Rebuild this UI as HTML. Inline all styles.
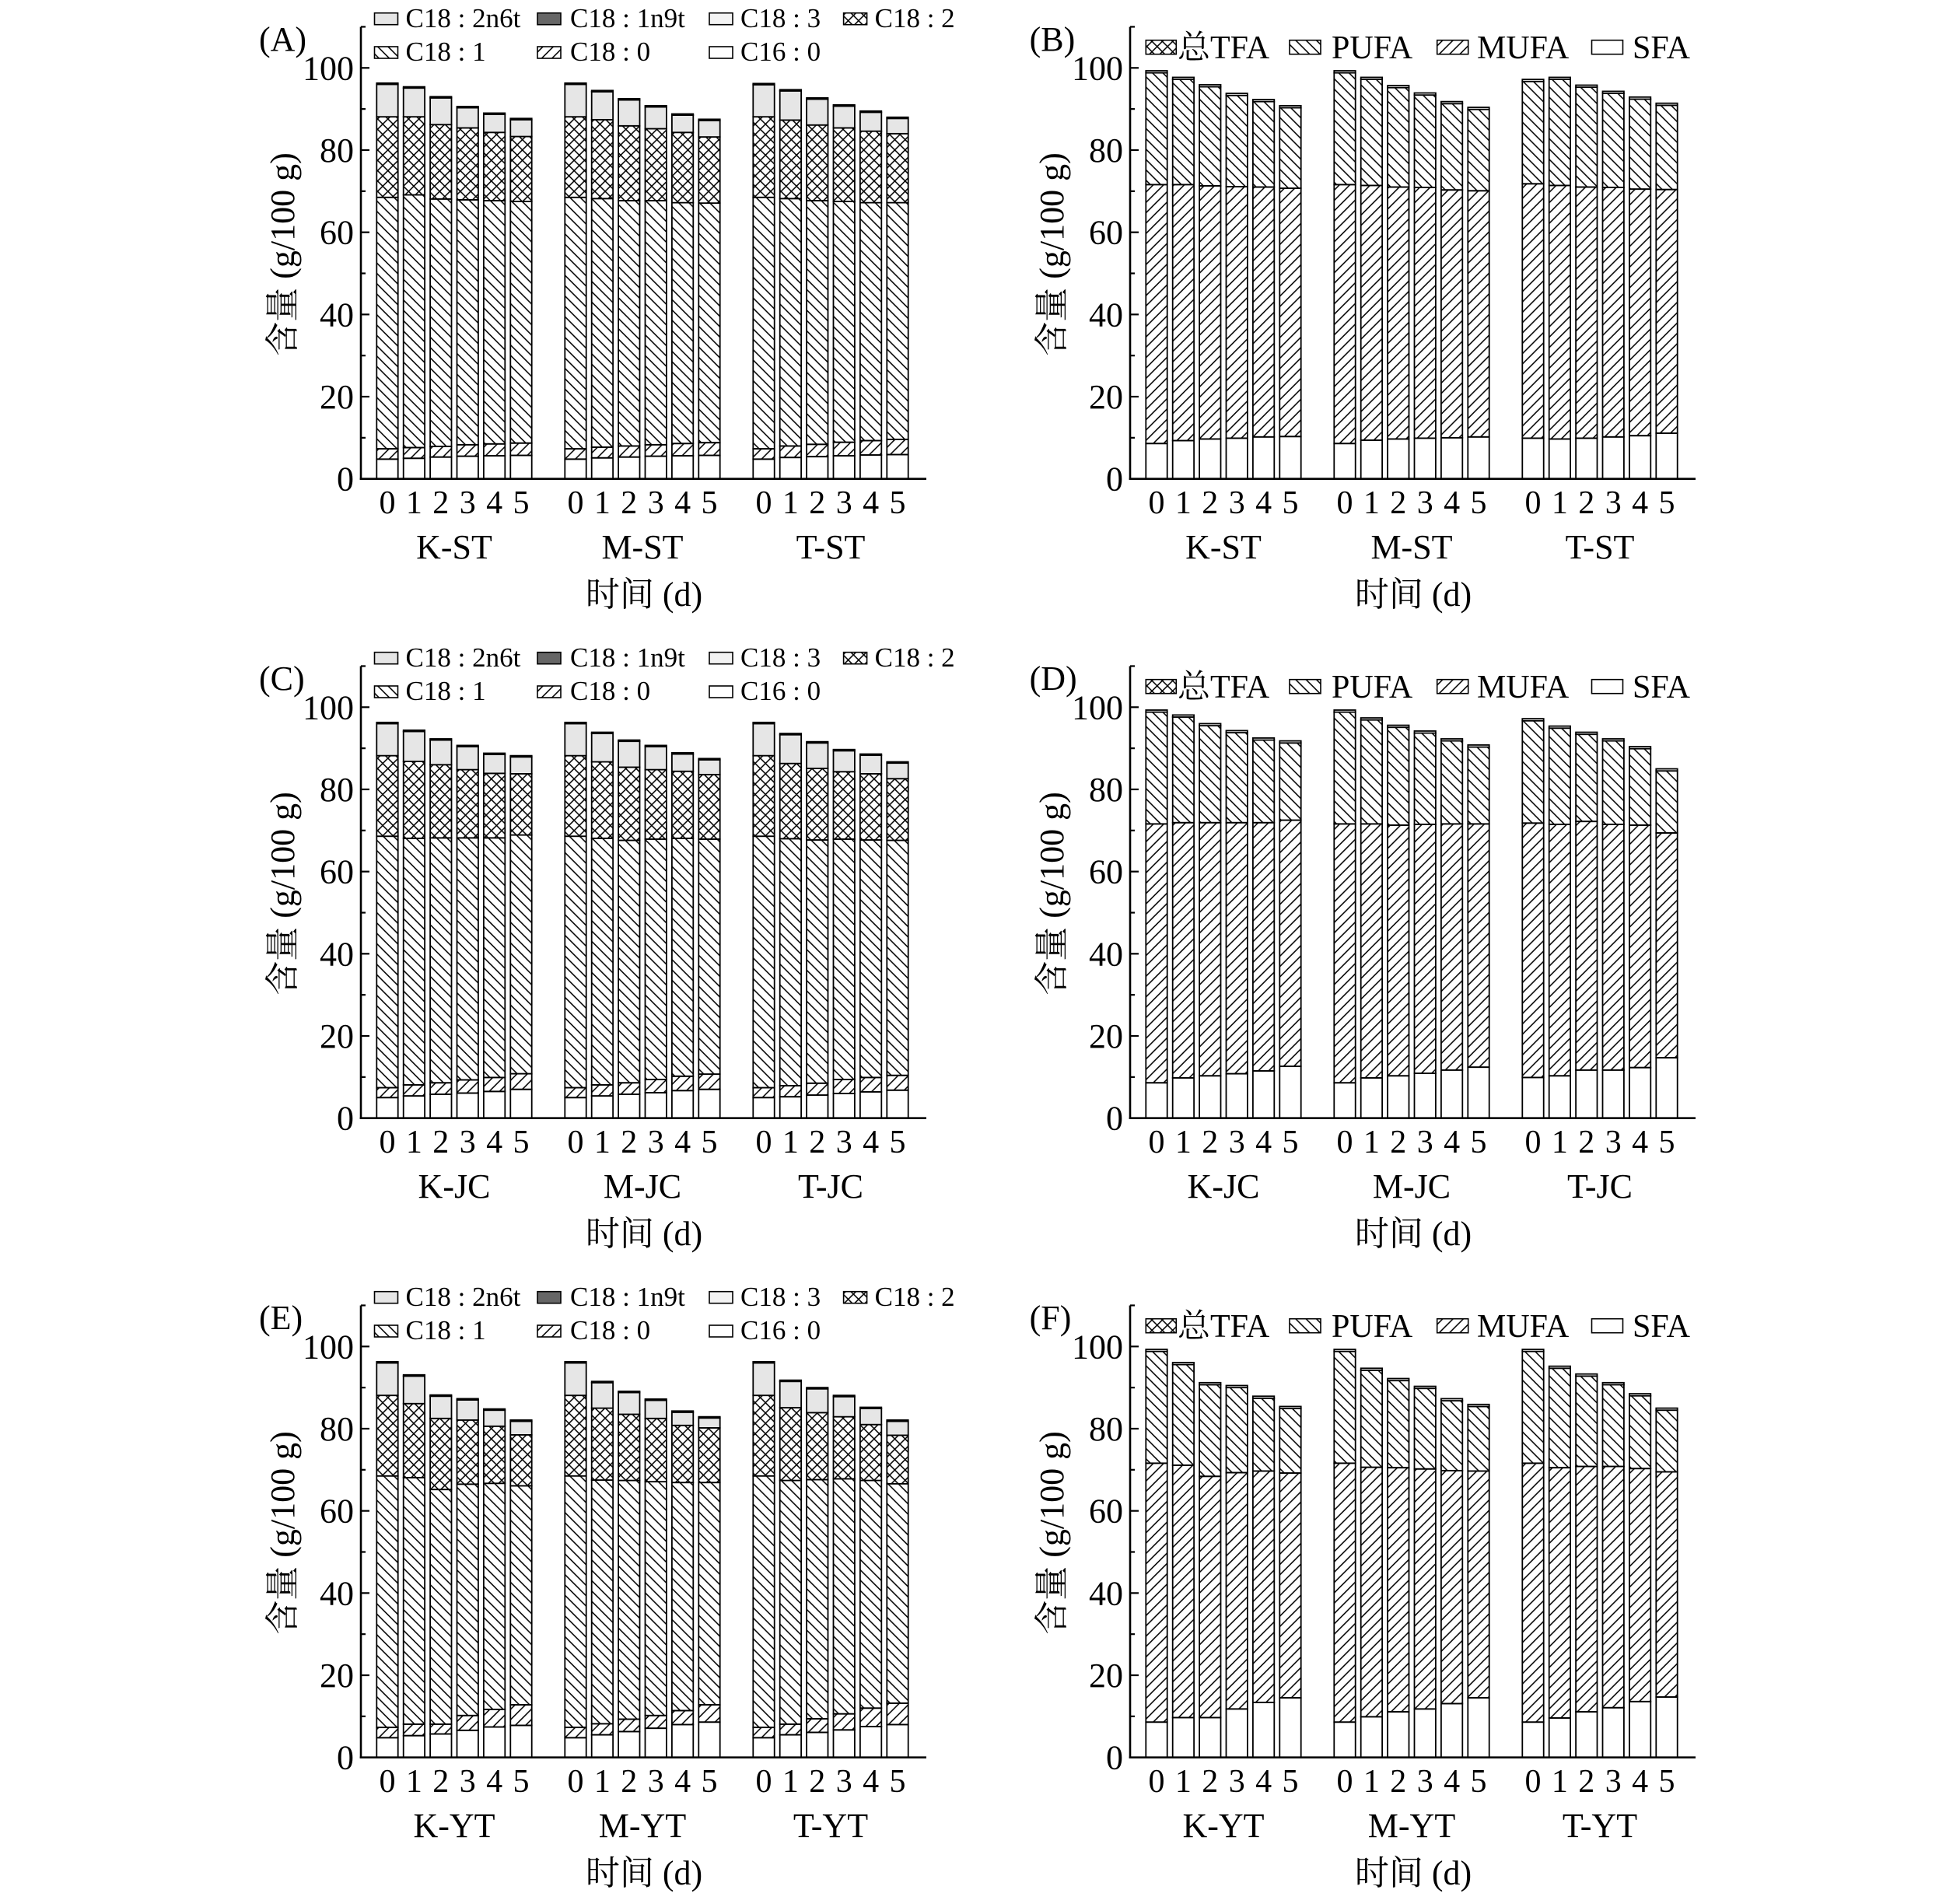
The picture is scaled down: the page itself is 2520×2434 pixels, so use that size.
<!DOCTYPE html>
<html>
<head>
<meta charset="utf-8">
<style>
html,body{margin:0;padding:0;background:#fff;}
svg{display:block;}
text{font-family:"Liberation Serif","Noto Serif CJK SC",serif;fill:#000;}
.tk{font-size:44px;}
.tx{font-size:42px;}
.gl{font-size:44px;}
.xl{font-size:44px;}
.yl{font-size:44px;}
.pl{font-size:44px;}
.lg{font-size:35px;}
.lg2{font-size:42px;}
</style>
</head>
<body>
<svg id="fig" xmlns="http://www.w3.org/2000/svg" width="2520" height="2434" viewBox="0 0 2520 2434">
<defs>
<pattern id="pb" patternUnits="userSpaceOnUse" width="13.3" height="13.3"><path d="M0,0L13.3,13.3M-2,11.3L2,15.3M11.3,-2L15.3,2" stroke="#000" stroke-width="1.5" fill="none"/></pattern>
<pattern id="pf" patternUnits="userSpaceOnUse" width="13.3" height="13.3"><path d="M0,13.3L13.3,0M-2,2L2,-2M11.3,15.3L15.3,11.3" stroke="#000" stroke-width="1.5" fill="none"/></pattern>
<pattern id="pc" patternUnits="userSpaceOnUse" width="13.3" height="13.3"><rect width="13.3" height="13.3" fill="#fff"/><path d="M0,0L13.3,13.3M-2,11.3L2,15.3M11.3,-2L15.3,2M0,13.3L13.3,0M-2,2L2,-2M11.3,15.3L15.3,11.3" stroke="#000" stroke-width="1.5" fill="none"/></pattern>
</defs>
<rect width="2520" height="2434" fill="#fff"/>
<g id="bars"></g>

<!-- Panel A -->
<g transform="translate(0,0)">
<text class="pl" x="333" y="65">(A)</text>
<text class="yl" x="378" y="327" text-anchor="middle" transform="rotate(-90 378 327)">含量 (g/100 g)</text>
<g class="tk" text-anchor="end"><text x="455" y="630.7">0</text><text x="455" y="525">20</text><text x="455" y="419.3">40</text><text x="455" y="313.7">60</text><text x="455" y="208">80</text><text x="455" y="102.3">100</text></g>
<g class="tx" text-anchor="middle"><text x="498 532.4 566.8 601.2 635.6 670" y="660">012345</text><text x="740 774.4 808.8 843.2 877.6 912" y="660">012345</text><text x="982 1016.4 1050.8 1085.2 1119.6 1154" y="660">012345</text></g>
<g class="gl" text-anchor="middle"><text x="584" y="718">K-ST</text><text x="826" y="718">M-ST</text><text x="1068" y="718">T-ST</text></g>
<text class="xl" x="828" y="779" text-anchor="middle">时间 (d)</text>
<g class="lg"><text x="521.5" y="35">C18 : 2n6t</text><text x="733" y="35">C18 : 1n9t</text><text x="952" y="35">C18 : 3</text><text x="1124.6" y="35">C18 : 2</text><text x="521.5" y="78">C18 : 1</text><text x="733" y="78">C18 : 0</text><text x="952" y="78">C16 : 0</text></g>
</g>

<!-- Panel B -->
<g transform="translate(989,0)">
<text class="pl" x="334.6" y="65">(B)</text>
<text class="yl" x="378" y="327" text-anchor="middle" transform="rotate(-90 378 327)">含量 (g/100 g)</text>
<g class="tk" text-anchor="end"><text x="455" y="630.7">0</text><text x="455" y="525">20</text><text x="455" y="419.3">40</text><text x="455" y="313.7">60</text><text x="455" y="208">80</text><text x="455" y="102.3">100</text></g>
<g class="tx" text-anchor="middle"><text x="498 532.4 566.8 601.2 635.6 670" y="660">012345</text><text x="740 774.4 808.8 843.2 877.6 912" y="660">012345</text><text x="982 1016.4 1050.8 1085.2 1119.6 1154" y="660">012345</text></g>
<g class="gl" text-anchor="middle"><text x="584" y="718">K-ST</text><text x="826" y="718">M-ST</text><text x="1068" y="718">T-ST</text></g>
<text class="xl" x="828" y="779" text-anchor="middle">时间 (d)</text>
<g class="lg2"><text x="525" y="75">总TFA</text><text x="723" y="75">PUFA</text><text x="910" y="75">MUFA</text><text x="1110" y="75">SFA</text></g>
</g>

<!-- Panel C -->
<g transform="translate(0,822)">
<text class="pl" x="333" y="65">(C)</text>
<text class="yl" x="378" y="327" text-anchor="middle" transform="rotate(-90 378 327)">含量 (g/100 g)</text>
<g class="tk" text-anchor="end"><text x="455" y="630.7">0</text><text x="455" y="525">20</text><text x="455" y="419.3">40</text><text x="455" y="313.7">60</text><text x="455" y="208">80</text><text x="455" y="102.3">100</text></g>
<g class="tx" text-anchor="middle"><text x="498 532.4 566.8 601.2 635.6 670" y="660">012345</text><text x="740 774.4 808.8 843.2 877.6 912" y="660">012345</text><text x="982 1016.4 1050.8 1085.2 1119.6 1154" y="660">012345</text></g>
<g class="gl" text-anchor="middle"><text x="584" y="718">K-JC</text><text x="826" y="718">M-JC</text><text x="1068" y="718">T-JC</text></g>
<text class="xl" x="828" y="779" text-anchor="middle">时间 (d)</text>
<g class="lg"><text x="521.5" y="35">C18 : 2n6t</text><text x="733" y="35">C18 : 1n9t</text><text x="952" y="35">C18 : 3</text><text x="1124.6" y="35">C18 : 2</text><text x="521.5" y="78">C18 : 1</text><text x="733" y="78">C18 : 0</text><text x="952" y="78">C16 : 0</text></g>
</g>

<!-- Panel D -->
<g transform="translate(989,822)">
<text class="pl" x="334.6" y="65">(D)</text>
<text class="yl" x="378" y="327" text-anchor="middle" transform="rotate(-90 378 327)">含量 (g/100 g)</text>
<g class="tk" text-anchor="end"><text x="455" y="630.7">0</text><text x="455" y="525">20</text><text x="455" y="419.3">40</text><text x="455" y="313.7">60</text><text x="455" y="208">80</text><text x="455" y="102.3">100</text></g>
<g class="tx" text-anchor="middle"><text x="498 532.4 566.8 601.2 635.6 670" y="660">012345</text><text x="740 774.4 808.8 843.2 877.6 912" y="660">012345</text><text x="982 1016.4 1050.8 1085.2 1119.6 1154" y="660">012345</text></g>
<g class="gl" text-anchor="middle"><text x="584" y="718">K-JC</text><text x="826" y="718">M-JC</text><text x="1068" y="718">T-JC</text></g>
<text class="xl" x="828" y="779" text-anchor="middle">时间 (d)</text>
<g class="lg2"><text x="525" y="75">总TFA</text><text x="723" y="75">PUFA</text><text x="910" y="75">MUFA</text><text x="1110" y="75">SFA</text></g>
</g>

<!-- Panel E -->
<g transform="translate(0,1644)">
<text class="pl" x="333" y="65">(E)</text>
<text class="yl" x="378" y="327" text-anchor="middle" transform="rotate(-90 378 327)">含量 (g/100 g)</text>
<g class="tk" text-anchor="end"><text x="455" y="630.7">0</text><text x="455" y="525">20</text><text x="455" y="419.3">40</text><text x="455" y="313.7">60</text><text x="455" y="208">80</text><text x="455" y="102.3">100</text></g>
<g class="tx" text-anchor="middle"><text x="498 532.4 566.8 601.2 635.6 670" y="660">012345</text><text x="740 774.4 808.8 843.2 877.6 912" y="660">012345</text><text x="982 1016.4 1050.8 1085.2 1119.6 1154" y="660">012345</text></g>
<g class="gl" text-anchor="middle"><text x="584" y="718">K-YT</text><text x="826" y="718">M-YT</text><text x="1068" y="718">T-YT</text></g>
<text class="xl" x="828" y="779" text-anchor="middle">时间 (d)</text>
<g class="lg"><text x="521.5" y="35">C18 : 2n6t</text><text x="733" y="35">C18 : 1n9t</text><text x="952" y="35">C18 : 3</text><text x="1124.6" y="35">C18 : 2</text><text x="521.5" y="78">C18 : 1</text><text x="733" y="78">C18 : 0</text><text x="952" y="78">C16 : 0</text></g>
</g>

<!-- Panel F -->
<g transform="translate(989,1644)">
<text class="pl" x="334.6" y="65">(F)</text>
<text class="yl" x="378" y="327" text-anchor="middle" transform="rotate(-90 378 327)">含量 (g/100 g)</text>
<g class="tk" text-anchor="end"><text x="455" y="630.7">0</text><text x="455" y="525">20</text><text x="455" y="419.3">40</text><text x="455" y="313.7">60</text><text x="455" y="208">80</text><text x="455" y="102.3">100</text></g>
<g class="tx" text-anchor="middle"><text x="498 532.4 566.8 601.2 635.6 670" y="660">012345</text><text x="740 774.4 808.8 843.2 877.6 912" y="660">012345</text><text x="982 1016.4 1050.8 1085.2 1119.6 1154" y="660">012345</text></g>
<g class="gl" text-anchor="middle"><text x="584" y="718">K-YT</text><text x="826" y="718">M-YT</text><text x="1068" y="718">T-YT</text></g>
<text class="xl" x="828" y="779" text-anchor="middle">时间 (d)</text>
<g class="lg2"><text x="525" y="75">总TFA</text><text x="723" y="75">PUFA</text><text x="910" y="75">MUFA</text><text x="1110" y="75">SFA</text></g>
</g>
</svg>
<script>
(function(){
var NS="http://www.w3.org/2000/svg";
var root=document.getElementById("bars");
var S=5.284,Y0=615.7;
function Y(v){return Y0-v*S;}
function el(tag,attrs,parent){var e=document.createElementNS(NS,tag);for(var k in attrs)e.setAttribute(k,attrs[k]);(parent||root).appendChild(e);return e;}
var A=[[[4.8,7.3,68.5,88.1,96.3],[5.0,7.6,69.1,88.1,95.4],[5.3,7.9,68.1,86.2,93.0],[5.5,8.3,67.9,85.4,90.6],[5.6,8.5,67.7,84.3,89.0],[5.7,8.7,67.5,83.3,87.7]],
[[4.8,7.3,68.5,88.1,96.3],[5.1,7.7,68.2,87.4,94.5],[5.3,8.0,67.7,85.9,92.5],[5.5,8.3,67.7,85.2,90.8],[5.6,8.6,67.2,84.3,88.8],[5.7,8.8,67.1,83.2,87.5]],
[[4.8,7.3,68.5,88.1,96.2],[5.2,8.0,68.2,87.3,94.7],[5.4,8.4,67.7,86.1,92.7],[5.6,8.9,67.5,85.4,91.0],[5.8,9.3,67.2,84.6,89.5],[5.9,9.6,67.2,84.0,88.0]]];
var C=[[[5.0,7.4,68.6,88.2,96.3],[5.4,8.1,68.1,86.8,94.4],[5.8,8.6,68.2,86.0,92.3],[6.1,9.3,68.2,84.8,90.7],[6.5,9.9,68.2,83.9,88.8],[7.0,10.8,68.9,83.8,88.2]],
[[5.0,7.4,68.6,88.2,96.3],[5.4,8.1,68.1,86.7,93.9],[5.8,8.6,67.6,85.4,92.0],[6.2,9.4,67.9,84.8,90.7],[6.7,10.2,68.1,84.4,88.9],[7.0,10.7,67.9,83.6,87.5]],
[[5.0,7.4,68.6,88.2,96.3],[5.2,7.9,68.0,86.3,93.6],[5.6,8.5,67.7,85.1,91.6],[6.0,9.4,67.9,84.3,89.7],[6.4,9.9,67.7,83.8,88.6],[6.8,10.4,67.6,82.6,86.7]]];
var E=[[[4.8,7.3,68.5,88.1,96.3],[5.3,8.1,68.1,86.1,93.1],[5.7,8.1,65.2,82.5,88.2],[6.6,10.2,66.5,82.1,87.3],[7.4,11.7,66.7,80.6,84.8],[7.8,12.8,66.1,78.5,82.1]],
[[4.8,7.3,68.5,88.1,96.3],[5.5,8.2,67.5,85.0,91.5],[6.3,9.3,67.4,83.5,89.1],[7.1,10.2,67.1,82.5,87.2],[8.0,11.4,66.9,80.8,84.3],[8.6,12.8,66.9,80.2,82.9]],
[[4.8,7.3,68.5,88.1,96.3],[5.5,8.1,67.4,85.1,91.8],[6.1,9.4,67.6,83.9,90.0],[6.7,10.6,67.8,82.9,88.1],[7.5,12.0,67.4,81.0,85.2],[8.0,13.2,66.6,78.4,82.1]]];
var B=[[[8.6,71.6,99.3],[9.3,71.6,97.7],[9.7,71.3,95.9],[9.9,71.1,93.8],[10.2,71.0,92.3],[10.3,70.7,90.8]],
[[8.6,71.6,99.3],[9.4,71.4,97.7],[9.7,71.0,95.7],[9.9,70.9,93.9],[10.0,70.3,91.8],[10.2,70.1,90.4]],
[[9.9,71.8,97.2],[9.7,71.4,97.7],[9.9,71.0,95.8],[10.2,70.9,94.3],[10.5,70.5,92.9],[11.1,70.4,91.4]]];
var D=[[[8.6,71.6,99.3],[9.8,71.9,98.1],[10.3,71.9,96.0],[10.8,71.9,94.3],[11.5,71.9,92.5],[12.6,72.5,91.8]],
[[8.6,71.6,99.3],[9.8,71.6,97.4],[10.3,71.3,95.6],[10.9,71.5,94.2],[11.7,71.6,92.3],[12.4,71.6,90.8]],
[[9.9,71.8,97.2],[10.3,71.5,95.4],[11.7,72.2,93.9],[11.7,71.5,92.3],[12.3,71.3,90.4],[14.7,69.4,85.0]]];
var F=[[[8.6,71.6,99.3],[9.7,71.1,96.1],[9.7,68.4,91.2],[11.8,69.3,90.5],[13.4,69.7,87.9],[14.5,69.2,85.4]],
[[8.6,71.6,99.3],[9.9,70.6,94.7],[11.1,70.5,92.2],[11.8,70.2,90.3],[13.1,69.8,87.3],[14.5,69.7,85.9]],
[[8.6,71.6,99.3],[9.6,70.5,95.2],[11.1,70.8,93.3],[12.1,70.8,91.2],[13.6,70.3,88.5],[14.7,69.5,85.0]]];
var panels=[{dx:0,dy:0,t:'f',d:A},{dx:989,dy:0,t:'g',d:B},{dx:0,dy:822,t:'f',d:C},{dx:989,dy:822,t:'g',d:D},{dx:0,dy:1644,t:'f',d:E},{dx:989,dy:1644,t:'g',d:F}];
panels.forEach(function(p){
  var g=el("g",{transform:"translate("+p.dx+","+p.dy+")"});
  for(var gi=0;gi<3;gi++){
    for(var i=0;i<6;i++){
      var v=p.d[gi][i];
      var x=484.3+gi*242+i*34.4, w=27.4;
      var segs;
      if(p.t==='f'){
        segs=[[0,v[0],'#fff'],[v[0],v[1],'url(#pf)'],[v[1],v[2],'url(#pb)'],[v[2],v[3],'url(#pc)'],[v[3],v[4]-0.3,'#e6e6e6'],[v[4]-0.3,v[4],'#555']];
      } else {
        segs=[[0,v[0],'#fff'],[v[0],v[1],'url(#pf)'],[v[1],v[2]-0.5,'url(#pb)'],[v[2]-0.5,v[2],'#fff']];
      }
      el("rect",{x:x,y:Y(v[v.length-1]),width:w,height:v[v.length-1]*S,fill:"#fff"},g);
      segs.forEach(function(s){
        var h=(s[1]-s[0])*S; if(h<=0)return;
        el("rect",{x:x,y:Y(s[1]),width:w,height:h,fill:s[2],stroke:"#000","stroke-width":1.8},g);
      });
    }
  }
  el("line",{x1:464,y1:Y(110),x2:464,y2:Y0+1.2,stroke:"#000","stroke-width":2.6},g);
  el("line",{x1:462.7,y1:Y0,x2:1191,y2:Y0,stroke:"#000","stroke-width":2.6},g);
  for(var t=10;t<=110;t+=10){
    var len=(t%20===0)?11:6;
    el("line",{x1:464,y1:Y(t),x2:464+len,y2:Y(t),stroke:"#000","stroke-width":2.2},g);
  }
  if(p.t==='f'){
    var sw=[[481.5,16.7,'#e6e6e6'],[691,16.7,'#666'],[912,16.7,'#f3f3f3'],[1084.6,16.7,'url(#pc)'],[481.5,60,'url(#pb)'],[691,60,'url(#pf)'],[912,60,'#fff']];
    sw.forEach(function(s){el("rect",{x:s[0],y:s[1],width:30,height:15,fill:s[2],stroke:"#000","stroke-width":1.6},g);});
  } else {
    var sw2=[[484.3,39,'url(#pc)'],[669,40,'url(#pb)'],[858.7,40,'url(#pf)'],[1057.5,40,'#fff']];
    sw2.forEach(function(s){el("rect",{x:s[0],y:51.7,width:s[1],height:18,fill:s[2],stroke:"#000","stroke-width":1.6},g);});
  }
});
})();
</script>
</body>
</html>
